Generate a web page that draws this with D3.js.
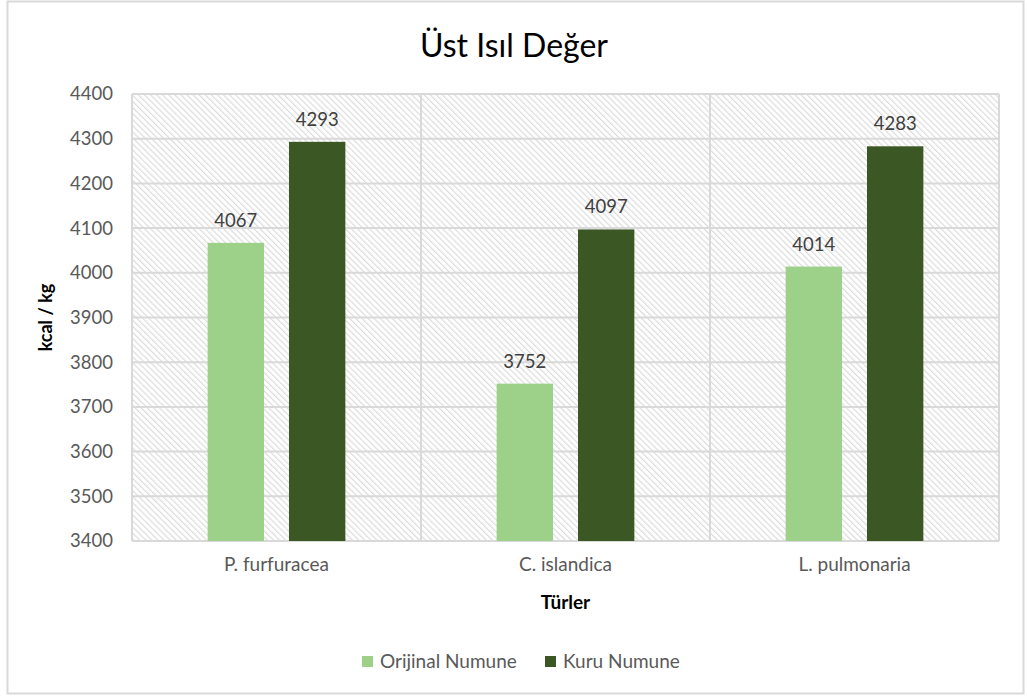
<!DOCTYPE html>
<html lang="tr">
	<head>
		<meta charset="utf-8">
		<title>Üst Isıl Değer</title>
		<script type="text/javascript" src="https://cdn.jsdelivr.net/npm/d3@7"></script>
		<style type="text/css">
			body { margin: 0; background: #fff; }
			text { font-family: Lato, "Open Sans", sans-serif; }
		</style>
	</head>
	<body>
		<script type="text/javascript">

			//Data
			var categories = ["P. furfuracea", "C. islandica", "L. pulmonaria"];
			var seriesNames = ["Orijinal Numune", "Kuru Numune"];
			var orijinal = [4067, 3752, 4014];
			var kuru = [4293, 4097, 4283];
			var yTicks = [3400, 3500, 3600, 3700, 3800, 3900, 4000, 4100, 4200, 4300, 4400];
			var colors = ["#9dd189", "#3a5724"];

			//Size
			var w = 1027;
			var h = 697;
			var plotLeft = 132, plotRight = 999, plotTop = 94, plotBottom = 541;

			var svg = d3.select("body")
						.append("svg")
						.attr("width", w)
						.attr("height", h);

			//Hatch pattern for plot background
			var pattern = svg.append("defs")
				.append("pattern")
				.attr("id", "hatch")
				.attr("patternUnits", "userSpaceOnUse")
				.attr("width", 4.3)
				.attr("height", 4.3)
				.attr("patternTransform", "rotate(-45)");
			pattern.append("rect")
				.attr("width", 4.3).attr("height", 4.3).attr("fill", "#fff");
			pattern.append("line")
				.attr("x1", 0.6).attr("y1", 0).attr("x2", 0.6).attr("y2", 4.3)
				.attr("stroke", "#dcdcdc")
				.attr("stroke-width", 1.2);

			//Outer chart border
			svg.append("rect")
				.attr("x", 7.5).attr("y", 1.5)
				.attr("width", 1016).attr("height", 692)
				.attr("fill", "#fff")
				.attr("stroke", "#d9d9d9")
				.attr("stroke-width", 2);

			//Scales
			var x0 = d3.scaleBand()
						.domain(categories)
						.range([plotLeft, plotRight]);

			var x1 = d3.scaleBand()
						.domain(seriesNames)
						.range([0, x0.bandwidth()])
						.paddingInner(0.307)
						.paddingOuter(0.93);

			var yScale = d3.scaleLinear()
						.domain([3400, 4400])
						.range([plotBottom, plotTop]);

			//Plot background
			svg.append("rect")
				.attr("x", plotLeft).attr("y", plotTop)
				.attr("width", plotRight - plotLeft).attr("height", plotBottom - plotTop)
				.attr("fill", "url(#hatch)");

			//Horizontal gridlines
			svg.append("g")
				.selectAll("line")
				.data(yTicks)
				.enter()
				.append("line")
				.attr("x1", plotLeft).attr("x2", plotRight)
				.attr("y1", function(d) { return yScale(d); })
				.attr("y2", function(d) { return yScale(d); })
				.attr("stroke", "#d9d9d9")
				.attr("stroke-width", 2);

			//Vertical category separators
			svg.append("g")
				.selectAll("line")
				.data(categories.concat(["end"]))
				.enter()
				.append("line")
				.attr("x1", function(d, i) { return i < categories.length ? x0(d) : plotRight; })
				.attr("x2", function(d, i) { return i < categories.length ? x0(d) : plotRight; })
				.attr("y1", plotTop).attr("y2", plotBottom)
				.attr("stroke", "#d9d9d9")
				.attr("stroke-width", 2);

			//Y axis labels
			var yAxis = d3.axisLeft(yScale)
						.tickValues(yTicks)
						.tickFormat(d3.format("d"))
						.tickSize(0)
						.tickPadding(19);
			var gy = svg.append("g")
				.attr("transform", "translate(" + plotLeft + ",0)")
				.call(yAxis);
			gy.select(".domain").remove();
			gy.selectAll("text")
				.attr("font-family", "Lato, sans-serif")
				.attr("font-size", "18.5px")
				.attr("fill", "#595959");

			//X axis labels
			var xAxis = d3.axisBottom(x0)
						.tickSize(0)
						.tickPadding(17);
			var gx = svg.append("g")
				.attr("transform", "translate(0," + plotBottom + ")")
				.call(xAxis);
			gx.select(".domain").remove();
			gx.selectAll("text")
				.attr("font-family", "Lato, sans-serif")
				.attr("font-size", "19px")
				.attr("fill", "#595959");

			//Bars
			var rows = categories.map(function(c, i) {
				return { cat: c, values: [
					{ name: seriesNames[0], value: orijinal[i], color: colors[0] },
					{ name: seriesNames[1], value: kuru[i], color: colors[1] }
				]};
			});

			var groups = svg.append("g")
				.selectAll("g")
				.data(rows)
				.enter()
				.append("g")
				.attr("transform", function(d) { return "translate(" + x0(d.cat) + ",0)"; });

			groups.selectAll("rect")
				.data(function(d) { return d.values; })
				.enter()
				.append("rect")
				.attr("x", function(d) { return x1(d.name); })
				.attr("y", function(d) { return yScale(d.value); })
				.attr("width", x1.bandwidth())
				.attr("height", function(d) { return plotBottom - yScale(d.value); })
				.attr("fill", function(d) { return d.color; });

			//Value labels
			groups.selectAll("text")
				.data(function(d) { return d.values; })
				.enter()
				.append("text")
				.text(function(d) { return d.value; })
				.attr("text-anchor", "middle")
				.attr("x", function(d) { return x1(d.name) + x1.bandwidth() / 2; })
				.attr("y", function(d) { return yScale(d.value) - 16; })
				.attr("font-size", "18.5px")
				.attr("fill", "#404040");

			//Title
			svg.append("text")
				.text("Üst Isıl Değer")
				.attr("x", 514)
				.attr("y", 57)
				.attr("text-anchor", "middle")
				.attr("font-size", "32px")
				.attr("fill", "#000");

			//Axis titles
			svg.append("text")
				.text("kcal / kg")
				.attr("transform", "translate(52," + ((plotTop + plotBottom) / 2) + ") rotate(-90)")
				.attr("text-anchor", "middle")
				.attr("font-size", "18px")
				.attr("font-weight", "bold")
				.attr("fill", "#000");

			svg.append("text")
				.text("Türler")
				.attr("x", (plotLeft + plotRight) / 2)
				.attr("y", 609)
				.attr("text-anchor", "middle")
				.attr("font-size", "19px")
				.attr("font-weight", "bold")
				.attr("fill", "#000");

			//Legend
			var legendX = [362, 545];
			var legend = svg.append("g")
				.selectAll("g")
				.data(seriesNames)
				.enter()
				.append("g")
				.attr("transform", function(d, i) { return "translate(" + legendX[i] + ",656)"; });
			legend.append("rect")
				.attr("width", 11).attr("height", 11)
				.attr("fill", function(d, i) { return colors[i]; });
			legend.append("text")
				.text(function(d) { return d; })
				.attr("x", 18)
				.attr("y", 12)
				.attr("font-size", "19px")
				.attr("fill", "#595959");

		</script>
	</body>
</html>
